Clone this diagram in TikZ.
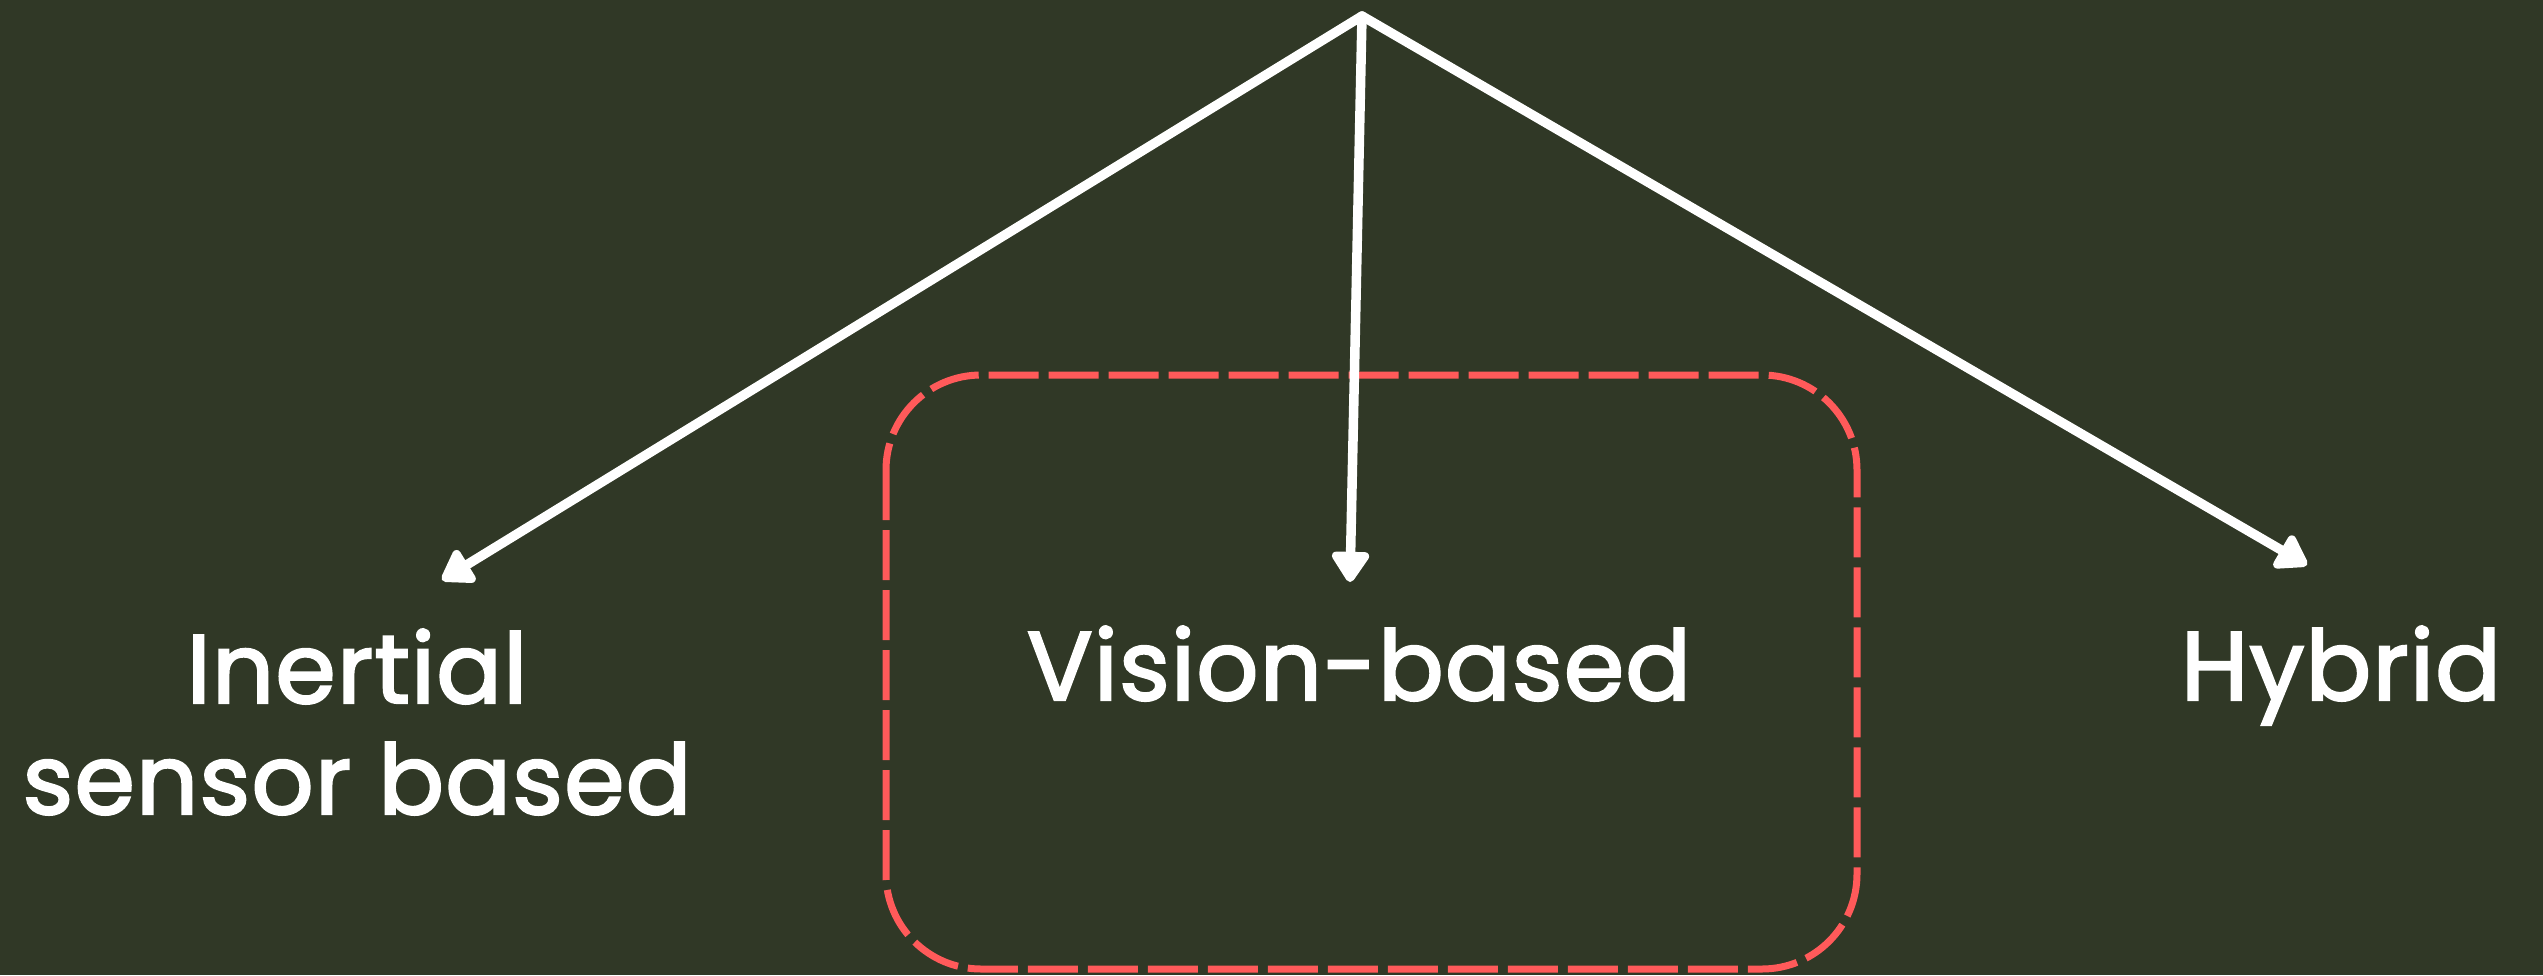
\documentclass[tikz,border=0pt]{standalone}
\usepackage{fontspec}
\setmainfont{Poppins}[LetterSpace=1.4, FakeBold=2.4]
\usetikzlibrary{arrows.meta}
\definecolor{bg}{HTML}{303826}
\definecolor{dashred}{HTML}{FF5A5A}
\tikzset{
  arr/.style={draw=white, line width=9.5pt, line cap=round, line join=round,
    -{Triangle[round, length=34pt, width=42pt]}},
  lbl/.style={text=white, font=\fontsize{97}{111}\selectfont, align=center, inner sep=0pt},
  dbox/.style={draw=dashred, line width=7pt, dash pattern=on 50pt off 10pt, rounded corners=95pt}
}
\begin{document}
\begin{tikzpicture}[x=1pt,y=-1pt]
\fill[bg] (0,0) rectangle (2543,975);
\useasboundingbox (0,0) rectangle (2543,975);
\draw[dbox] (886,375) rectangle (1857,969);
\coordinate (apex) at (1362,16);
\coordinate (tipL) at (442,580);
\coordinate (tipM) at (1350,582);
\coordinate (tipR) at (2307,565);
\draw[arr] (apex) -- (tipL);
\draw[arr] (apex) -- (tipM);
\draw[arr] (apex) -- (tipR);
\node[lbl, anchor=center] (inert) at (357,722) {Inertial\\sensor based};
\node[lbl, anchor=base] (vision) at (1359,700) {Vision-based};
\node[lbl, anchor=base] (hybrid) at (2341,700) {Hybrid};
\end{tikzpicture}
\end{document}
